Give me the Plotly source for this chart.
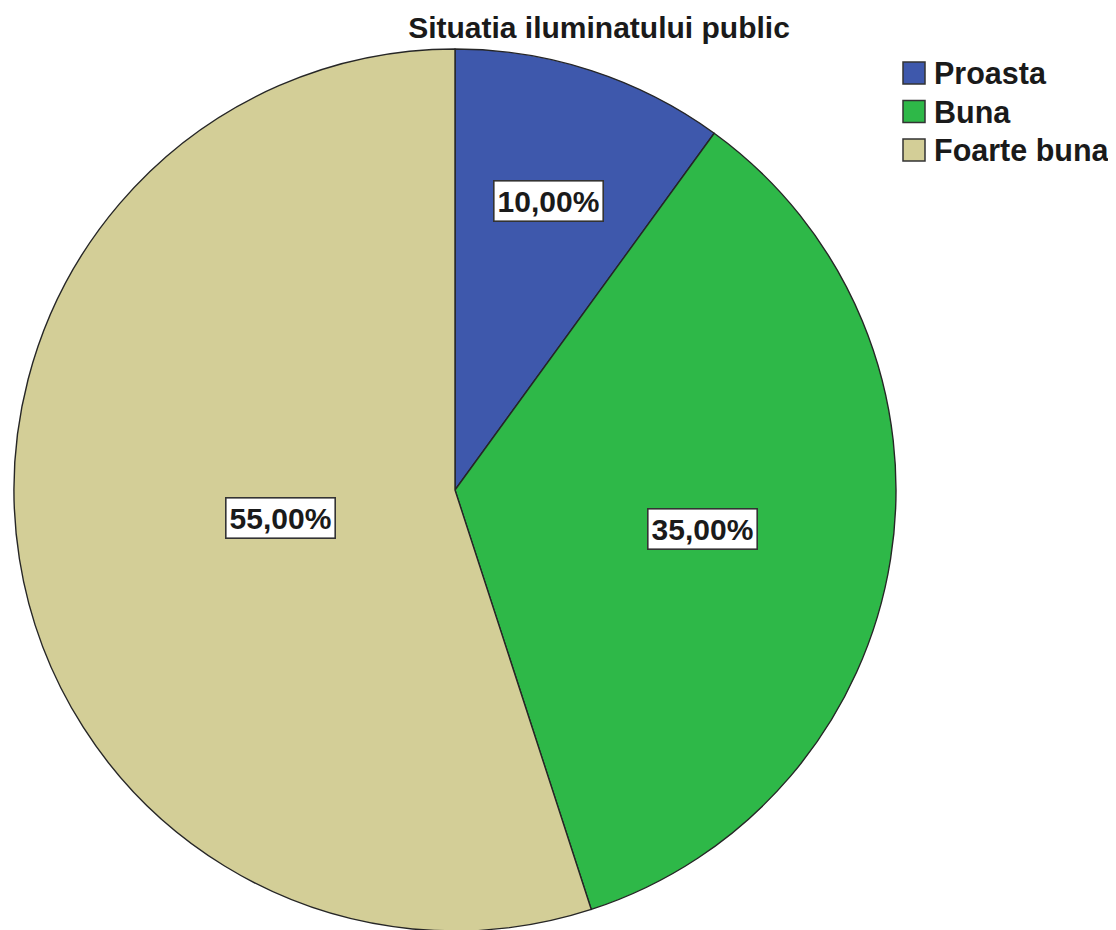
import math
import plotly.graph_objects as go

categories = ["Proasta", "Buna", "Foarte buna"]
values = [10.0, 35.0, 55.0]
colors = ["#3E58AC", "#2EB848", "#D3CE97"]
title_text = "Situatia iluminatului public"

W, H = 1116, 930
OFF = 8  # page body margin
FONT = "Liberation Sans, Arial"


def px(x):
    return (x - OFF) / W


def py(y):
    return 1 - (y - OFF) / H


# pie placement (page pixels)
cx, cy, r = 455, 490, 441
dom_x = [px(cx - r), px(cx + r)]
dom_y = [py(cy + r), py(cy - r)]

fig = go.Figure()
fig.add_trace(go.Pie(
    labels=categories, values=values, sort=False, direction="clockwise",
    rotation=0, marker=dict(colors=colors, line=dict(color="#262626", width=1.4)),
    textinfo="none", hoverinfo="label+percent", showlegend=False,
    domain=dict(x=dom_x, y=dom_y),
))

# label boxes placed near sector centroids computed from values
total = sum(values)
start = 0.0
annotations = []
for v in values:
    frac = v / total
    theta = frac * 2 * math.pi
    mid = (start + frac / 2) * 2 * math.pi  # clockwise from top
    half = theta / 2
    d = 1.05 * 2 * r * math.sin(half) / (3 * half)
    lx = cx + d * math.sin(mid)
    ly = cy - d * math.cos(mid)
    label = f"{v / total * 100:.2f}%".replace(".", ",")
    annotations.append(dict(
        x=px(lx), y=py(ly), xref="paper", yref="paper",
        text=label, showarrow=False,
        font=dict(family=FONT, size=30, color="#1a1a1a", weight="bold"),
        bgcolor="white", bordercolor="#333333", borderwidth=1.6, borderpad=3,
        xanchor="center", yanchor="middle",
    ))
    start += frac

# legend (drawn as swatches + text)
shapes = []
leg_x, leg_y0, leg_dy, sw = 903, 73, 38.5, 22
for i, (cat, col) in enumerate(zip(categories, colors)):
    yc = leg_y0 + i * leg_dy
    shapes.append(dict(type="rect", xref="paper", yref="paper",
                       x0=px(leg_x), x1=px(leg_x + sw), y0=py(yc + sw / 2), y1=py(yc - sw / 2),
                       fillcolor=col, line=dict(color="#333333", width=1.5)))
    annotations.append(dict(x=px(leg_x + sw + 7), y=py(yc), xref="paper", yref="paper",
                            text=cat, showarrow=False, xanchor="left", yanchor="middle",
                            font=dict(family=FONT, size=30.5, color="#1a1a1a", weight="bold")))

fig.update_layout(
    width=W, height=H,
    margin=dict(l=0, r=0, t=0, b=0),
    paper_bgcolor="white", plot_bgcolor="white",
    title=dict(text=title_text, x=px(599), xanchor="center", y=py(27), yanchor="middle",
               font=dict(family=FONT, size=30, color="#1a1a1a", weight="bold")),
    annotations=annotations,
    shapes=shapes,
    showlegend=False,
)

fig.write_html("out.html")
